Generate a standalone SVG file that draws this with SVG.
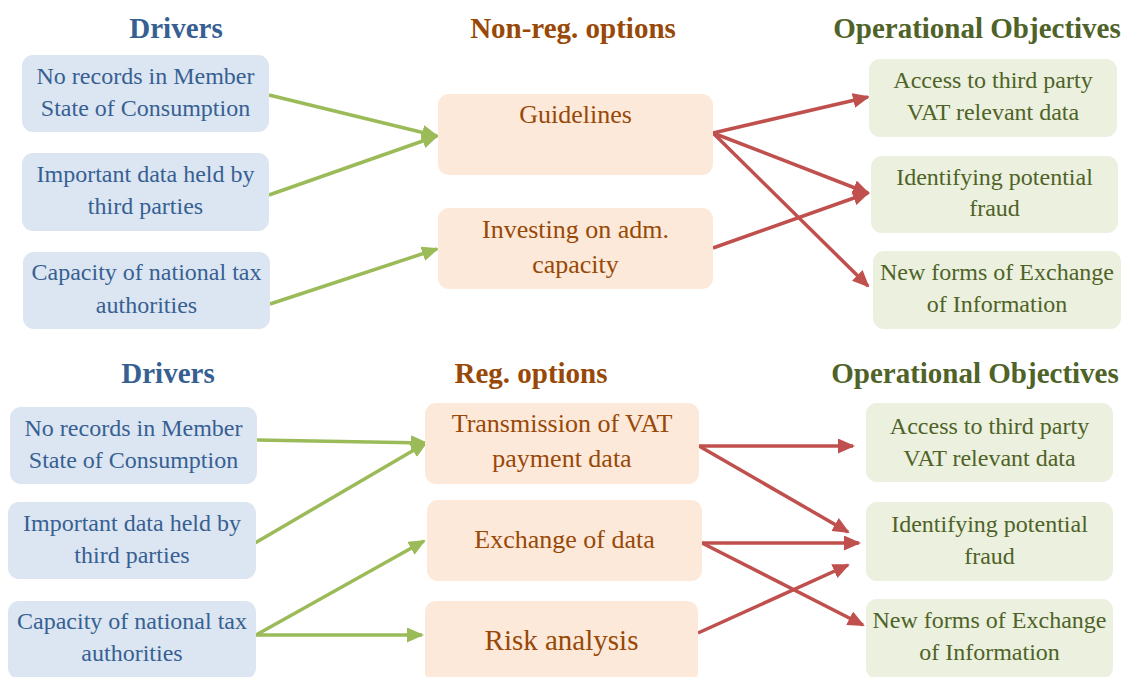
<svg xmlns="http://www.w3.org/2000/svg" width="1123" height="677" viewBox="0 0 1123 677">
<style>
text{font-family:"Liberation Serif","Times New Roman",serif;text-anchor:middle}
.h{font-size:29px;font-weight:bold}
.t{font-size:24px}
.m{font-size:26px}
.d rect{fill:#dce6f2}
.d text{fill:#376092}
.o rect{fill:#fde9d9}
.o text{fill:#984807}
.g rect{fill:#ebf1de}
.g text{fill:#4f6228}
.ga{stroke:#9bbb59;stroke-width:3.5;fill:none;marker-end:url(#mg)}
.ra{stroke:#c0504d;stroke-width:3.5;fill:none;marker-end:url(#mr)}
</style>
<defs>
<marker id="mg" markerUnits="userSpaceOnUse" markerWidth="17" markerHeight="15" viewBox="0 0 17 15" refX="15" refY="7.5" orient="auto"><path d="M0,0 L17,7.5 L0,15 z" fill="#9bbb59"/></marker>
<marker id="mr" markerUnits="userSpaceOnUse" markerWidth="17" markerHeight="15" viewBox="0 0 17 15" refX="15" refY="7.5" orient="auto"><path d="M0,0 L17,7.5 L0,15 z" fill="#c0504d"/></marker>
</defs>
<rect width="1123" height="677" fill="#ffffff"/>
<g id="headers">
<text class="h" x="176" y="38" fill="#376092">Drivers</text>
<text class="h" x="573" y="38" fill="#984807">Non-reg. options</text>
<text class="h" x="977" y="38" fill="#4f6228">Operational Objectives</text>
<text class="h" x="168" y="383" fill="#376092">Drivers</text>
<text class="h" x="531" y="383" fill="#984807">Reg. options</text>
<text class="h" x="975" y="383" fill="#4f6228">Operational Objectives</text>
</g>
<g id="connectors">
<line class="ga" x1="269" y1="95" x2="437" y2="136"/>
<line class="ga" x1="269" y1="195" x2="437" y2="136"/>
<line class="ga" x1="270" y1="304" x2="437" y2="249"/>
<line class="ra" x1="713" y1="133" x2="868" y2="97"/>
<line class="ra" x1="713" y1="133" x2="868" y2="193"/>
<line class="ra" x1="713" y1="133" x2="868" y2="286"/>
<line class="ra" x1="713" y1="248" x2="868" y2="193"/>
<line class="ga" x1="257" y1="440" x2="426" y2="443"/>
<line class="ga" x1="255" y1="543" x2="426" y2="443"/>
<line class="ga" x1="256" y1="635" x2="424" y2="541"/>
<line class="ga" x1="256" y1="635" x2="422" y2="635"/>
<line class="ra" x1="699" y1="446" x2="853" y2="446"/>
<line class="ra" x1="699" y1="446" x2="848" y2="532"/>
<line class="ra" x1="702" y1="543" x2="859" y2="543"/>
<line class="ra" x1="702" y1="543" x2="863" y2="625"/>
<line class="ra" x1="698" y1="633" x2="848" y2="565"/>
</g>
<g id="d1" class="d"><rect x="22" y="55" width="247" height="77" rx="11"/><text class="t" x="145.5" y="84">No records in Member</text><text class="t" x="145.5" y="116">State of Consumption</text></g>
<g id="d2" class="d"><rect x="22" y="153" width="247" height="78" rx="11"/><text class="t" x="145.5" y="182">Important data held by</text><text class="t" x="145.5" y="214">third parties</text></g>
<g id="d3" class="d"><rect x="23" y="252" width="247" height="77" rx="11"/><text class="t" x="146.5" y="280">Capacity of national tax</text><text class="t" x="146.5" y="313">authorities</text></g>
<g id="o1" class="o"><rect x="438" y="94" width="275" height="81" rx="11"/><text class="m" x="575.5" y="123">Guidelines</text></g>
<g id="o2" class="o"><rect x="438" y="208" width="275" height="81" rx="11"/><text class="m" x="575.5" y="238">Investing on adm.</text><text class="m" x="575.5" y="273">capacity</text></g>
<g id="g1" class="g"><rect x="869" y="59" width="248" height="78" rx="11"/><text class="t" x="993" y="88">Access to third party</text><text class="t" x="993" y="120">VAT relevant data</text></g>
<g id="g2" class="g"><rect x="871" y="156" width="247" height="77" rx="11"/><text class="t" x="994.5" y="185">Identifying potential</text><text class="t" x="994.5" y="216">fraud</text></g>
<g id="g3" class="g"><rect x="873" y="251" width="248" height="78" rx="11"/><text class="t" x="997" y="280">New forms of Exchange</text><text class="t" x="997" y="312">of Information</text></g>
<g id="d4" class="d"><rect x="10" y="407" width="247" height="77" rx="11"/><text class="t" x="133.5" y="436">No records in Member</text><text class="t" x="133.5" y="468">State of Consumption</text></g>
<g id="d5" class="d"><rect x="8" y="502" width="248" height="77" rx="11"/><text class="t" x="132" y="531">Important data held by</text><text class="t" x="132" y="563">third parties</text></g>
<g id="d6" class="d"><rect x="8" y="601" width="248" height="78" rx="11"/><text class="t" x="132" y="629">Capacity of national tax</text><text class="t" x="132" y="661">authorities</text></g>
<g id="o3" class="o"><rect x="425" y="403" width="274" height="81" rx="11"/><text class="m" x="562" y="432">Transmission of VAT</text><text class="m" x="562" y="467">payment data</text></g>
<g id="o4" class="o"><rect x="427" y="500" width="275" height="81" rx="11"/><text class="m" x="564.5" y="548">Exchange of data</text></g>
<g id="o5" class="o"><rect x="425" y="601" width="273" height="82" rx="11"/><text x="561.5" y="650" style="font-size:29px">Risk analysis</text></g>
<g id="g4" class="g"><rect x="866" y="403" width="247" height="79" rx="11"/><text class="t" x="989.5" y="434">Access to third party</text><text class="t" x="989.5" y="466">VAT relevant data</text></g>
<g id="g5" class="g"><rect x="866" y="502" width="247" height="79" rx="11"/><text class="t" x="989.5" y="532">Identifying potential</text><text class="t" x="989.5" y="564">fraud</text></g>
<g id="g6" class="g"><rect x="866" y="599" width="247" height="80" rx="11"/><text class="t" x="989.5" y="628">New forms of Exchange</text><text class="t" x="989.5" y="660">of Information</text></g>
</svg>
